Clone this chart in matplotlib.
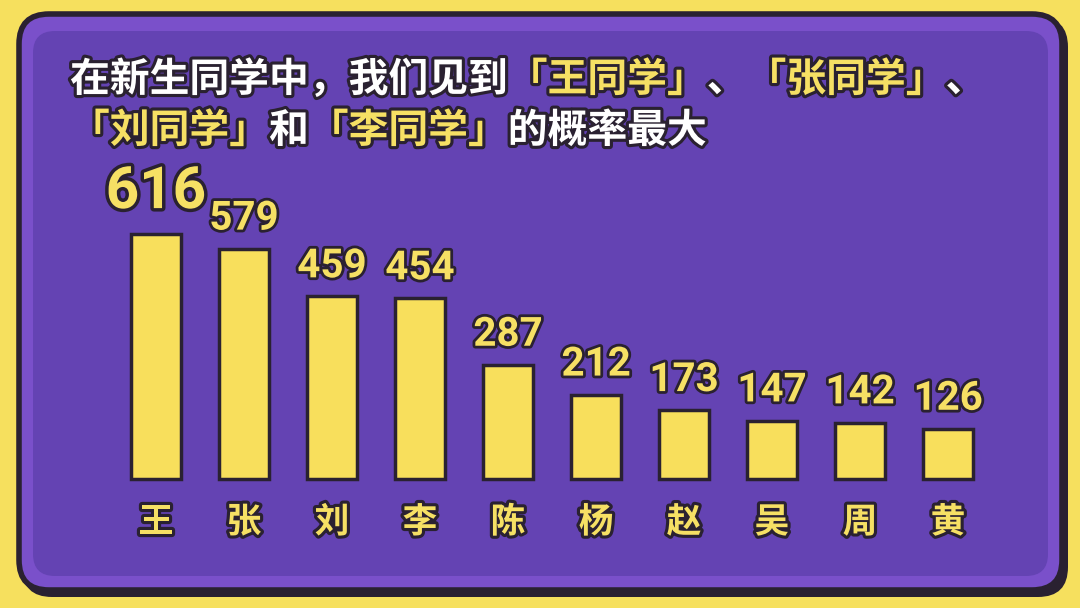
import matplotlib
matplotlib.use("Agg")
import matplotlib.pyplot as plt
import matplotlib.patheffects as pe
from matplotlib.patches import FancyBboxPatch

plt.rcParams['font.family'] = ['Noto Sans CJK SC', 'DejaVu Sans']

# data
surnames = ["王", "张", "刘", "李", "陈", "杨", "赵", "吴", "周", "黄"]
counts = [616, 579, 459, 454, 287, 212, 173, 147, 142, 126]

title_line1 = [("在新生同学中，我们见到", "white"), ("「王同学」", "yellow"),
               ("、", "white"), ("「张同学」", "yellow"), ("、", "white")]
title_line2 = [("「刘同学」", "yellow"), ("和", "white"),
               ("「李同学」", "yellow"), ("的概率最大", "white")]

BG_YELLOW = "#F6E05E"
DARK = "#2A2131"
FRAME_PURPLE = "#7A50CA"
INNER_PURPLE = "#6443B3"
BAR_YELLOW = "#F8DF5C"
TXT_YELLOW = "#F6E064"

W, H = 1080, 608
fig = plt.figure(figsize=(W / 100, H / 100), dpi=100)
fig.patch.set_facecolor(BG_YELLOW)

# background axes in pixel coords for the frame
bg = fig.add_axes([0, 0, 1, 1])
bg.set_xlim(0, W)
bg.set_ylim(H, 0)
bg.axis("off")

bg.add_patch(FancyBboxPatch((22, 17), 1046, 580, boxstyle="round,pad=0,rounding_size=30",
                            fc=DARK, ec="none"))
bg.add_patch(FancyBboxPatch((19, 14), 1043, 576, boxstyle="round,pad=0,rounding_size=30",
                            fc=FRAME_PURPLE, ec=DARK, lw=4))
bg.add_patch(FancyBboxPatch((33, 31), 1015, 545, boxstyle="round,pad=0,rounding_size=22",
                            fc=INNER_PURPLE, ec="none"))

stroke = [pe.withStroke(linewidth=4.5, foreground=DARK)]
col = {"white": "white", "yellow": TXT_YELLOW}

# title: full-width characters, so each one advances one em
em_px = 39.8
fs_title = em_px * 72 / 100
for line, y in [(title_line1, 80), (title_line2, 131)]:
    x = 70
    for seg, c in line:
        bg.text(x, y, seg, color=col[c], fontsize=fs_title, fontweight="bold",
                ha="left", va="center", path_effects=stroke)
        x += em_px * len(seg)

# bar chart
ax = fig.add_axes([112 / W, 1 - 479 / H, 880 / W, 245 / H])
ax.set_xlim(-0.5, len(surnames) - 0.5)
ax.set_ylim(0, max(counts))
ax.axis("off")
xs = range(len(surnames))
ax.bar(xs, counts, width=0.57, color=BAR_YELLOW, edgecolor=DARK, linewidth=2.5,
       clip_on=False)

for i, v in enumerate(counts):
    big = i == 0
    ax.annotate(str(v), (i, v), xytext=(0, 10 if big else 8), textcoords="offset points",
                ha="center", va="bottom", fontsize=42 if big else 29,
                family=["Roboto", "DejaVu Sans"], fontweight="bold",
                color=TXT_YELLOW, path_effects=[pe.withStroke(linewidth=5 if big else 4,
                                                              foreground=DARK)],
                annotation_clip=False)
    ax.annotate(surnames[i], (i, 0), xytext=(0, -31), textcoords="offset points",
                ha="center", va="center", fontsize=25, fontweight="bold",
                color=TXT_YELLOW, path_effects=stroke, annotation_clip=False)

fig.savefig("out.png", dpi=100, facecolor=fig.get_facecolor())
